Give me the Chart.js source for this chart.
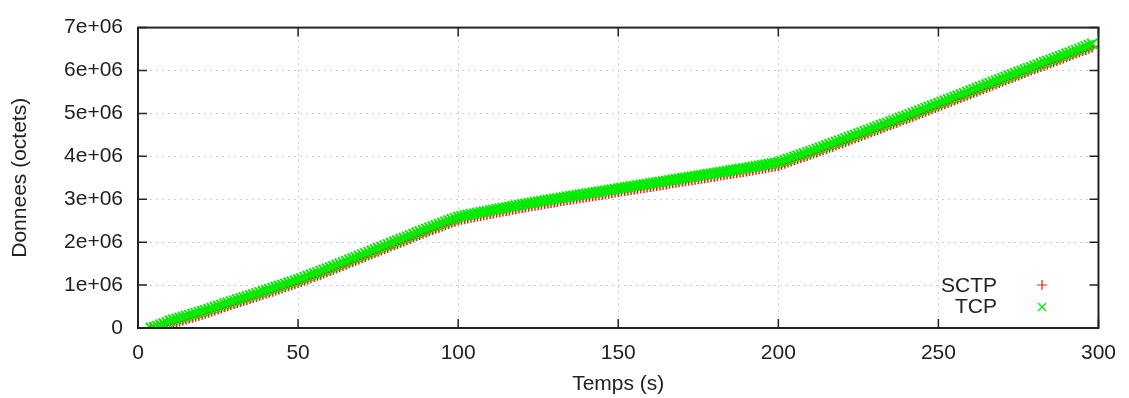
<!DOCTYPE html>
<html><head><meta charset="utf-8">
<script src="https://cdn.jsdelivr.net/npm/chart.js@4.4.0/dist/chart.umd.min.js"></script>
<style>html,body{margin:0;padding:0;background:#fff;overflow:hidden}</style>
</head><body>
<canvas id="c" width="1129" height="398" style="display:block;width:1129px;height:398px"></canvas>
<script>
// Time (s) of each sample
const times = [
4,5,6,7,8,9,10,
11,12,13,14,15,16,17,18,19,20,
21,22,23,24,25,26,27,28,29,30,
31,32,33,34,35,36,37,38,39,40,
41,42,43,44,45,46,47,48,49,50,
51,52,53,54,55,56,57,58,59,60,
61,62,63,64,65,66,67,68,69,70,
71,72,73,74,75,76,77,78,79,80,
81,82,83,84,85,86,87,88,89,90,
91,92,93,94,95,96,97,98,99,100,
101,102,103,104,105,106,107,108,109,110,
111,112,113,114,115,116,117,118,119,120,
121,122,123,124,125,126,127,128,129,130,
131,132,133,134,135,136,137,138,139,140,
141,142,143,144,145,146,147,148,149,150,
151,152,153,154,155,156,157,158,159,160,
161,162,163,164,165,166,167,168,169,170,
171,172,173,174,175,176,177,178,179,180,
181,182,183,184,185,186,187,188,189,190,
191,192,193,194,195,196,197,198,199,200,
201,202,203,204,205,206,207,208,209,210,
211,212,213,214,215,216,217,218,219,220,
221,222,223,224,225,226,227,228,229,230,
231,232,233,234,235,236,237,238,239,240,
241,242,243,244,245,246,247,248,249,250,
251,252,253,254,255,256,257,258,259,260,
261,262,263,264,265,266,267,268,269,270,
271,272,273,274,275,276,277,278,279,280,
281,282,283,284,285,286,287,288,289,290,
291,292,293,294,295,296,297,298];

// SCTP cumulative data (octets)
const sctp = [
0,10000,30000,50000,70000,90000,110000,
132000,154000,176000,198000,220000,242000,264000,286000,308000,330000,
355000,380000,405000,430000,455000,480000,505000,530000,555000,580000,
604000,628000,652000,676000,700000,724000,748000,772000,796000,820000,
845000,870000,895000,920000,945000,970000,995000,1020000,1045000,1070000,
1098000,1126000,1154000,1182000,1210000,1238000,1266000,1294000,1322000,1350000,
1380000,1410000,1440000,1470000,1500000,1530000,1560000,1590000,1620000,1650000,
1680000,1710000,1740000,1770000,1800000,1830000,1860000,1890000,1920000,1950000,
1980000,2010000,2040000,2070000,2100000,2130000,2160000,2190000,2220000,2250000,
2278000,2306000,2334000,2362000,2390000,2418000,2446000,2474000,2502000,2530000,
2545000,2560000,2575000,2590000,2605000,2620000,2635000,2650000,2665000,2680000,
2694000,2708000,2722000,2736000,2750000,2764000,2778000,2792000,2806000,2820000,
2833000,2846000,2859000,2872000,2885000,2898000,2911000,2924000,2937000,2950000,
2962000,2974000,2986000,2998000,3010000,3022000,3034000,3046000,3058000,3070000,
3082000,3094000,3106000,3118000,3130000,3142000,3154000,3166000,3178000,3190000,
3202000,3214000,3226000,3238000,3250000,3262000,3274000,3286000,3298000,3310000,
3322000,3334000,3346000,3358000,3370000,3382000,3394000,3406000,3418000,3430000,
3442000,3454000,3466000,3478000,3490000,3502000,3514000,3526000,3538000,3550000,
3562000,3574000,3586000,3598000,3610000,3622000,3634000,3646000,3658000,3670000,
3683000,3696000,3709000,3722000,3735000,3748000,3761000,3774000,3787000,3800000,
3826000,3852000,3878000,3904000,3930000,3956000,3982000,4008000,4034000,4060000,
4087000,4114000,4141000,4168000,4195000,4222000,4249000,4276000,4303000,4330000,
4358000,4386000,4414000,4442000,4470000,4498000,4526000,4554000,4582000,4610000,
4638000,4666000,4694000,4722000,4750000,4778000,4806000,4834000,4862000,4890000,
4919000,4948000,4977000,5006000,5035000,5064000,5093000,5122000,5151000,5180000,
5209000,5238000,5267000,5296000,5325000,5354000,5383000,5412000,5441000,5470000,
5499000,5528000,5557000,5586000,5615000,5644000,5673000,5702000,5731000,5760000,
5789000,5818000,5847000,5876000,5905000,5934000,5963000,5992000,6021000,6050000,
6078000,6106000,6134000,6162000,6190000,6218000,6246000,6274000,6302000,6330000,
6359000,6388000,6417000,6446000,6475000,6504000,6533000,6562000];

// TCP cumulative data (octets)
const tcp = [
0,20000,45000,75000,105000,135000,170000,
192000,214000,236000,258000,280000,302000,324000,346000,368000,390000,
415000,440000,465000,490000,515000,540000,565000,590000,615000,640000,
664000,688000,712000,736000,760000,784000,808000,832000,856000,880000,
905000,930000,955000,980000,1005000,1030000,1055000,1080000,1105000,1130000,
1158000,1186000,1214000,1242000,1270000,1298000,1326000,1354000,1382000,1410000,
1440000,1470000,1500000,1530000,1560000,1590000,1620000,1650000,1680000,1710000,
1740000,1770000,1800000,1830000,1860000,1890000,1920000,1950000,1980000,2010000,
2040000,2070000,2100000,2130000,2160000,2190000,2220000,2250000,2280000,2310000,
2338000,2366000,2394000,2422000,2450000,2478000,2506000,2534000,2562000,2590000,
2605000,2620000,2635000,2650000,2665000,2680000,2695000,2710000,2725000,2740000,
2754000,2768000,2782000,2796000,2810000,2824000,2838000,2852000,2866000,2880000,
2893000,2906000,2919000,2932000,2945000,2958000,2971000,2984000,2997000,3010000,
3022000,3034000,3046000,3058000,3070000,3082000,3094000,3106000,3118000,3130000,
3142000,3154000,3166000,3178000,3190000,3202000,3214000,3226000,3238000,3250000,
3262000,3274000,3286000,3298000,3310000,3322000,3334000,3346000,3358000,3370000,
3382000,3394000,3406000,3418000,3430000,3442000,3454000,3466000,3478000,3490000,
3502000,3514000,3526000,3538000,3550000,3562000,3574000,3586000,3598000,3610000,
3622000,3634000,3646000,3658000,3670000,3682000,3694000,3706000,3718000,3730000,
3743000,3756000,3769000,3782000,3795000,3808000,3821000,3834000,3847000,3860000,
3886000,3912000,3938000,3964000,3990000,4016000,4042000,4068000,4094000,4120000,
4147000,4174000,4201000,4228000,4255000,4282000,4309000,4336000,4363000,4390000,
4418000,4446000,4474000,4502000,4530000,4558000,4586000,4614000,4642000,4670000,
4698000,4726000,4754000,4782000,4810000,4838000,4866000,4894000,4922000,4950000,
4979000,5008000,5037000,5066000,5095000,5124000,5153000,5182000,5211000,5240000,
5269000,5298000,5327000,5356000,5385000,5414000,5443000,5472000,5501000,5530000,
5559000,5588000,5617000,5646000,5675000,5704000,5733000,5762000,5791000,5820000,
5849000,5878000,5907000,5936000,5965000,5994000,6023000,6052000,6081000,6110000,
6138000,6166000,6194000,6222000,6250000,6278000,6306000,6334000,6362000,6390000,
6419000,6448000,6477000,6506000,6535000,6564000,6593000,6622000];

const seriesNames = ['SCTP', 'TCP'];
const seriesColors = ['#ff1a1a', '#00ec00'];
const xTicks = [0, 50, 100, 150, 200, 250, 300];
const yTicks = [0, 1000000, 2000000, 3000000, 4000000, 5000000, 6000000, 7000000];
const yTickLabels = ['0', '1e+06', '2e+06', '3e+06', '4e+06', '5e+06', '6e+06', '7e+06'];
const xTitle = 'Temps (s)';
const yTitle = 'Donnees (octets)';

const FONT = '"Liberation Sans", Arial, Helvetica, sans-serif';
const TXT = '#222';

const framePlugin = {
  id: 'frame',
  beforeDraw(chart) {
    const ctx = chart.ctx;
    ctx.save(); ctx.fillStyle = '#fff'; ctx.fillRect(0, 0, chart.width, chart.height); ctx.restore();
  },
  afterDatasetsDraw(chart) {
    const ctx = chart.ctx, a = chart.chartArea;
    const xs = chart.scales.x, ys = chart.scales.y;
    ctx.save();
    // legend box (opaque)
    ctx.fillStyle = '#fff';
    ctx.fillRect(946, 271, a.right - 947, 48);
    ctx.font = '21px ' + FONT;
    ctx.fillStyle = TXT;
    ctx.textAlign = 'right';
    ctx.textBaseline = 'middle';
    ctx.fillText(seriesNames[0], 997, 286);
    ctx.fillText(seriesNames[1], 997, 307);
    // legend markers
    ctx.lineWidth = 1.2;
    ctx.strokeStyle = seriesColors[0];
    ctx.beginPath();
    ctx.moveTo(1037, 285); ctx.lineTo(1047, 285);
    ctx.moveTo(1042, 280); ctx.lineTo(1042, 290);
    ctx.stroke();
    ctx.strokeStyle = seriesColors[1];
    ctx.beginPath();
    ctx.moveTo(1038, 303); ctx.lineTo(1046, 311);
    ctx.moveTo(1046, 303); ctx.lineTo(1038, 311);
    ctx.stroke();
    // inward tick marks
    ctx.strokeStyle = '#222';
    ctx.lineWidth = 1.5;
    ctx.beginPath();
    xTicks.forEach(v => {
      const x = xs.getPixelForValue(v);
      ctx.moveTo(x, a.bottom); ctx.lineTo(x, a.bottom - 9);
      ctx.moveTo(x, a.top); ctx.lineTo(x, a.top + 9);
    });
    yTicks.forEach(v => {
      const y = ys.getPixelForValue(v);
      ctx.moveTo(a.left, y); ctx.lineTo(a.left + 9, y);
      ctx.moveTo(a.right, y); ctx.lineTo(a.right - 9, y);
    });
    ctx.stroke();
    // frame
    ctx.lineWidth = 2;
    ctx.strokeRect(a.left, a.top, a.right - a.left, a.bottom - a.top);
    ctx.restore();
  }
};

const gridColor = (max) => (c) => (c.tick && (c.tick.value === 0 || c.tick.value === max)) ? 'rgba(0,0,0,0)' : '#cccccc';

new Chart(document.getElementById('c'), {
  type: 'scatter',
  data: {
    datasets: [
      {
        label: seriesNames[0],
        data: times.map((t, i) => ({ x: t, y: sctp[i] })),
        pointStyle: 'cross',
        pointRadius: 6,
        borderWidth: 1.5,
        borderColor: seriesColors[0],
        backgroundColor: seriesColors[0],
        showLine: false,
        order: 2
      },
      {
        label: seriesNames[1],
        data: times.map((t, i) => ({ x: t, y: tcp[i] })),
        pointStyle: 'crossRot',
        pointRadius: 7,
        borderWidth: 2,
        borderColor: seriesColors[1],
        backgroundColor: seriesColors[1],
        showLine: false,
        order: 1
      }
    ]
  },
  options: {
    responsive: false,
    animation: false,
    devicePixelRatio: 1,
    events: [],
    layout: { padding: { top: 21, right: 29, left: 0, bottom: 0 } },
    plugins: { legend: { display: false }, tooltip: { enabled: false } },
    scales: {
      x: {
        type: 'linear', min: 0, max: 300,
        afterBuildTicks: s => { s.ticks = xTicks.map(v => ({ value: v })); },
        afterFit: s => { s.height = 70; },
        grid: { color: gridColor(300), drawTicks: false, lineWidth: 1 },
        border: { display: false, dash: [2, 4] },
        ticks: { padding: 13, color: TXT, font: { family: FONT, size: 21 }, maxRotation: 0, autoSkip: false },
        title: { display: true, text: xTitle, color: TXT, font: { family: FONT, size: 21 }, padding: { top: 0, bottom: 1 } }
      },
      y: {
        type: 'linear', min: 0, max: 7000000,
        afterBuildTicks: s => { s.ticks = yTicks.map(v => ({ value: v })); },
        afterFit: s => { s.width = 138; },
        grid: { color: gridColor(7000000), drawTicks: false, lineWidth: 1 },
        border: { display: false, dash: [2, 4] },
        ticks: {
          padding: 15, color: TXT, font: { family: FONT, size: 21 }, autoSkip: false,
          callback: (v, i) => yTickLabels[i]
        },
        title: { display: true, text: yTitle, color: TXT, font: { family: FONT, size: 21 }, padding: { top: 8, bottom: 0 } }
      }
    }
  },
  plugins: [framePlugin]
});
</script>
</body></html>
